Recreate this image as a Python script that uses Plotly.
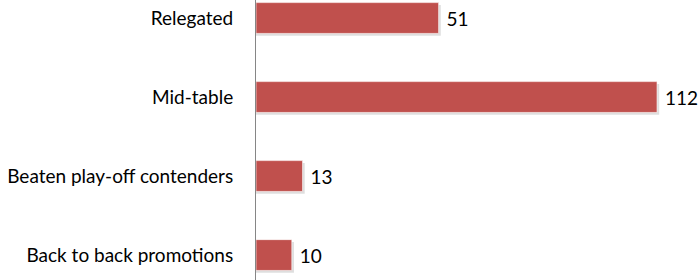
import plotly.graph_objects as go

categories = ["Back to back promotions", "Beaten play-off contenders", "Mid-table", "Relegated"]
values = [10, 13, 112, 51]

BAR_COLOR = "#C0504D"
FONT = "Lato"

fig = go.Figure()
# subtle drop shadow, derived from the same data
fig.add_trace(go.Bar(
    y=categories, x=[v + 0.6 for v in values], orientation="h",
    width=0.39, offset=-0.195 - 0.03,
    marker=dict(color="rgba(0,0,0,0.13)", line=dict(width=0)),
    hoverinfo="skip", showlegend=False,
))
fig.add_trace(go.Bar(
    y=categories, x=values, orientation="h",
    width=0.39, offset=-0.195,
    marker=dict(color=BAR_COLOR, line=dict(color="white", width=0.6)),
    text=[f" {v}" for v in values], textposition="outside",
    textfont=dict(family=FONT, size=19, color="#000000"),
    cliponaxis=False, showlegend=False,
))

fig.update_layout(
    width=700, height=280,
    margin=dict(l=256, r=0, t=0, b=0),
    paper_bgcolor="white", plot_bgcolor="white",
    barmode="overlay",
    uniformtext=dict(mode=False),
    xaxis=dict(range=[0, 124], visible=False, showgrid=False, zeroline=False),
    yaxis=dict(
        categoryorder="array", categoryarray=categories,
        range=[-0.316, 3.228],
        showline=True, linecolor="#868686", linewidth=1,
        ticks="outside", ticklen=18, tickcolor="rgba(0,0,0,0)",
        showgrid=False, zeroline=False,
        tickfont=dict(family=FONT, size=19, color="#000000"),
    ),
)

fig.write_html("out.html")
